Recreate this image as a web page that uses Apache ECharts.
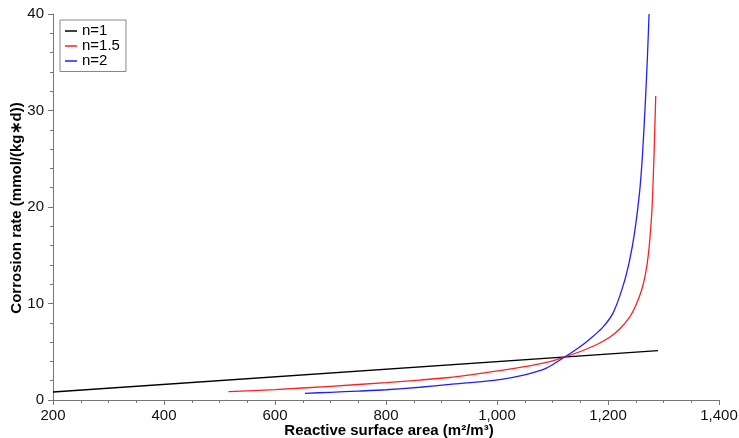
<!DOCTYPE html>
<html><head><meta charset="utf-8">
<script src="https://cdn.jsdelivr.net/npm/echarts@6/dist/echarts.min.js"></script>
<style>html,body{margin:0;padding:0;background:#fff}#c{width:739px;height:438px}</style>
</head><body><div id="c"></div>
<script>
const seriesNames = ['n=1', 'n=1.5', 'n=2'];
const xTitle = 'Reactive surface area (m²/m³)';
const yTitle = 'Corrosion rate (mmol/(kg∗d))';
const n1 = [[200, 0.83], [1290, 5.11]];
const n15 = [[516,0.86],[600,1.08],[700,1.42],[800,1.8],[861,2.07],[915,2.33],[1005,3.05],[1050,3.45],[1089,3.9],[1119,4.4],[1149,5.0],[1180,5.75],[1203,6.5],[1220,7.3],[1239,8.6],[1250,9.8],[1260,11.3],[1267,12.9],[1273,15.2],[1278,18.6],[1280,20.7],[1283,25.5],[1286,31.5]];
const n2 = [[654,0.69],[700,0.8],[750,0.92],[800,1.06],[861,1.32],[915,1.62],[1005,2.12],[1050,2.6],[1089,3.3],[1119,4.35],[1149,5.5],[1167,6.3],[1190,7.5],[1209,9.0],[1227,11.8],[1239,14.5],[1248,17.4],[1257,21.6],[1262,25.3],[1267,30.5],[1271,35.5],[1274,40]];
const colors = ['#000000', '#ff2020', '#2020ff'];
const xTicks = {min: 200, max: 1400, interval: 200};
const yTicks = {min: 0, max: 40, interval: 10};

const chart = echarts.init(document.getElementById('c'), null, {renderer: 'canvas'});
const font = 'Liberation Sans, Arial, Helvetica, sans-serif';
const axisCommon = {
  axisLine: {show: true, lineStyle: {color: '#777', width: 1}},
  axisTick: {show: true, inside: false, length: 5, lineStyle: {color: '#777'}},
  minorTick: {show: true, length: 3, lineStyle: {color: '#777'}},
  splitLine: {show: false},
  axisLabel: {color: '#111', fontSize: 15, fontFamily: font}
};
const titleStyle = {font: 'bold 15px ' + font, fill: '#000', textAlign: 'center', textVerticalAlign: 'middle'};
chart.setOption({
  animation: false,
  grid: {left: 53, right: 20, top: 14, bottom: 38, outerBoundsMode: 'none'},
  legend: {
    data: seriesNames, orient: 'vertical', left: 60, top: 20,
    icon: 'rect', itemWidth: 12, itemHeight: 1.5, itemGap: 0,
    borderColor: '#888', borderWidth: 1, backgroundColor: '#fff',
    padding: [3.5, 6, 3, 5],
    textStyle: {fontSize: 15, lineHeight: 15, fontFamily: font, color: '#000'}
  },
  graphic: [
    {type: 'text', x: 389, y: 431, style: Object.assign({text: xTitle}, titleStyle)},
    {type: 'text', x: 17, y: 208, rotation: Math.PI / 2, style: Object.assign({text: yTitle}, titleStyle)}
  ],
  xAxis: Object.assign({}, axisCommon, {
    type: 'value', min: xTicks.min, max: xTicks.max, interval: xTicks.interval,
    minorTick: Object.assign({}, axisCommon.minorTick, {splitNumber: 4}),
    axisLabel: Object.assign({}, axisCommon.axisLabel, {margin: 8,
      formatter: v => v.toLocaleString('en-US')})
  }),
  yAxis: Object.assign({}, axisCommon, {
    type: 'value', min: yTicks.min, max: yTicks.max, interval: yTicks.interval,
    minorTick: Object.assign({}, axisCommon.minorTick, {splitNumber: 5}),
    axisLabel: Object.assign({}, axisCommon.axisLabel, {margin: 9})
  }),
  series: [
    {name: seriesNames[0], type: 'line', data: n1, showSymbol: false, lineStyle: {width: 1.3, color: colors[0]}, itemStyle: {color: colors[0]}},
    {name: seriesNames[1], type: 'line', data: n15, smooth: 0.25, showSymbol: false, lineStyle: {width: 1.3, color: colors[1]}, itemStyle: {color: colors[1]}},
    {name: seriesNames[2], type: 'line', data: n2, smooth: 0.25, showSymbol: false, lineStyle: {width: 1.3, color: colors[2]}, itemStyle: {color: colors[2]}}
  ]
});
</script></body></html>
